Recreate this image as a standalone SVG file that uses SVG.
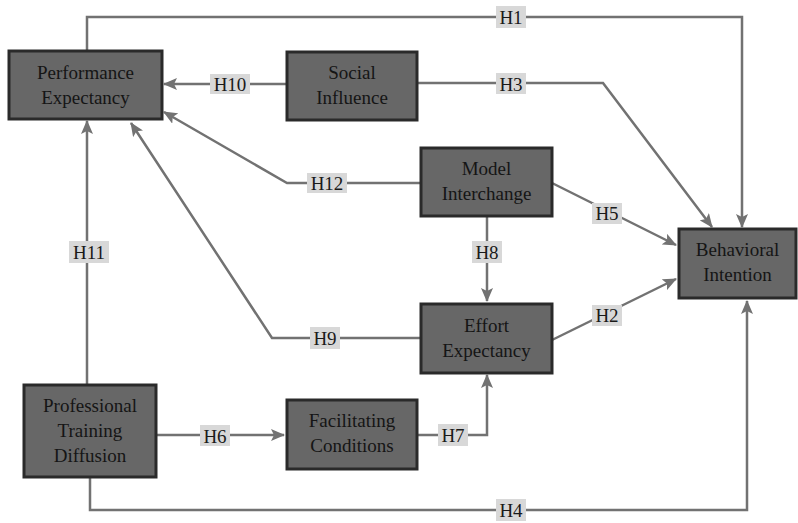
<svg xmlns="http://www.w3.org/2000/svg" width="798" height="523" viewBox="0 0 798 523" font-family="Liberation Serif, DejaVu Serif, serif">
<style>
.node rect{fill:#676767;stroke:#2a2a2a;stroke-width:3}
.node text{font-size:19px;fill:#151515;text-anchor:middle;dominant-baseline:central}
.conn path{fill:none;stroke:#727272;stroke-width:2.5}
.lbl rect{fill:#d8d8d8}
.lbl text{font-size:19px;fill:#1a1a1a;text-anchor:middle;dominant-baseline:central}
</style>
<defs>
<marker id="ah" markerUnits="userSpaceOnUse" markerWidth="14" markerHeight="12" viewBox="0 0 14 12" refX="13" refY="6" orient="auto">
<path d="M0,0 L14,6 L0,12 L3,6 Z" fill="#727272"/>
</marker>
</defs>
<rect width="798" height="523" fill="#ffffff"/>
<g id="connectors" class="conn">
<path id="e-h1" d="M87,50 V17 H742 V227" marker-end="url(#ah)"/>
<path id="e-h10" d="M286,84 H164" marker-end="url(#ah)"/>
<path id="e-h3" d="M417,83 H603 L712,227" marker-end="url(#ah)"/>
<path id="e-h12" d="M421,183 H287 L164,112" marker-end="url(#ah)"/>
<path id="e-h5" d="M552,183 L676,245" marker-end="url(#ah)"/>
<path id="e-h8" d="M487,216 V301" marker-end="url(#ah)"/>
<path id="e-h2" d="M552,340 L676,279" marker-end="url(#ah)"/>
<path id="e-h9" d="M421,338 H272 L131,123" marker-end="url(#ah)"/>
<path id="e-h11" d="M87,385 V121" marker-end="url(#ah)"/>
<path id="e-h6" d="M156,435 H284" marker-end="url(#ah)"/>
<path id="e-h7" d="M417,435 H487 V375" marker-end="url(#ah)"/>
<path id="e-h4" d="M90,477 V510 H747 V301" marker-end="url(#ah)"/>
</g>
<g id="labels" class="lbl">
<g><rect x="496" y="6" width="30" height="22"/><text x="511" y="17">H1</text></g>
<g><rect x="210" y="74" width="40" height="20"/><text x="230" y="84">H10</text></g>
<g><rect x="496" y="73" width="30" height="21"/><text x="511" y="84">H3</text></g>
<g><rect x="307" y="173" width="40" height="20"/><text x="327" y="183">H12</text></g>
<g><rect x="592" y="203" width="30" height="21"/><text x="607" y="213">H5</text></g>
<g><rect x="472" y="241" width="30" height="22"/><text x="487" y="252">H8</text></g>
<g><rect x="592" y="305" width="30" height="21"/><text x="607" y="315">H2</text></g>
<g><rect x="310" y="327" width="30" height="22"/><text x="325" y="338">H9</text></g>
<g><rect x="69" y="241" width="40" height="22"/><text x="89" y="252">H11</text></g>
<g><rect x="200" y="425" width="30" height="21"/><text x="215" y="436">H6</text></g>
<g><rect x="438" y="424" width="30" height="22"/><text x="453" y="435">H7</text></g>
<g><rect x="496" y="499" width="30" height="22"/><text x="511" y="510">H4</text></g>
</g>
<g id="n-pe" class="node"><rect x="9" y="51" width="153" height="68"/><text x="85.5" y="72">Performance</text><text x="85.5" y="97">Expectancy</text></g>
<g id="n-si" class="node"><rect x="287" y="52" width="130" height="68"/><text x="352" y="72">Social</text><text x="352" y="97">Influence</text></g>
<g id="n-mi" class="node"><rect x="421" y="148" width="131" height="68"/><text x="486.5" y="168">Model</text><text x="486.5" y="193">Interchange</text></g>
<g id="n-ee" class="node"><rect x="421" y="304" width="131" height="69"/><text x="486.5" y="325">Effort</text><text x="486.5" y="350">Expectancy</text></g>
<g id="n-bi" class="node"><rect x="679" y="229" width="117" height="69"/><text x="737.5" y="249">Behavioral</text><text x="737.5" y="274">Intention</text></g>
<g id="n-ptd" class="node"><rect x="24" y="385" width="132" height="92"/><text x="90" y="405">Professional</text><text x="90" y="430">Training</text><text x="90" y="455">Diffusion</text></g>
<g id="n-fc" class="node"><rect x="287" y="400" width="130" height="69"/><text x="352" y="420">Facilitating</text><text x="352" y="445">Conditions</text></g>
</svg>
